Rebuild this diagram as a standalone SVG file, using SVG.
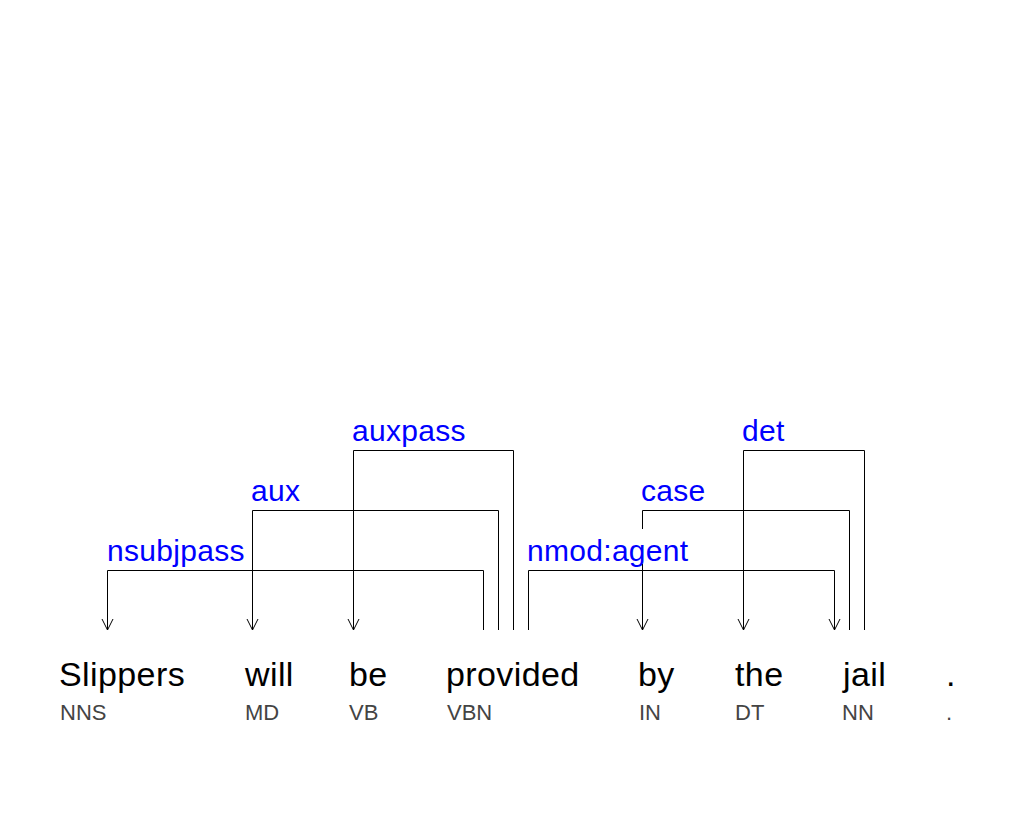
<svg xmlns="http://www.w3.org/2000/svg" width="1010" height="840" viewBox="0 0 1010 840">
<style>
.word{font-family:"Liberation Sans",Arial,sans-serif;font-size:34px;letter-spacing:0.4px;fill:#000}
.pos{font-family:"Liberation Sans",Arial,sans-serif;font-size:22px;fill:#444}
.lbl{font-family:"Liberation Sans",Arial,sans-serif;font-size:30px;letter-spacing:0.3px;fill:#0000ff}
.arc{fill:none;stroke:#000;stroke-width:1}
.bg{fill:#fff}
</style>
<defs>
<marker id="arr" markerUnits="userSpaceOnUse" viewBox="-12 -7 14 14" markerWidth="14" markerHeight="14" refX="0" refY="0" orient="auto" overflow="visible">
<path d="M-11,-5.5 L0,0 L-11,5.5" fill="none" stroke="#000" stroke-width="1"/>
</marker>
</defs>
<rect width="1010" height="840" fill="#fff"/>
<g id="connectors">
<path class="arc" d="M483.5 630 V570.5 H107.5 V630" marker-end="url(#arr)"/>
<path class="arc" d="M498.5 630 V510.5 H252.5 V630" marker-end="url(#arr)"/>
<path class="arc" d="M513.5 630 V450.5 H353.5 V630" marker-end="url(#arr)"/>
<path class="arc" d="M528.5 630 V570.5 H834.5 V630" marker-end="url(#arr)"/>
<path class="arc" d="M849.5 630 V510.5 H642.5 V630" marker-end="url(#arr)"/>
<path class="arc" d="M864.5 630 V450.5 H743.5 V630" marker-end="url(#arr)"/>
<g id="labels">
<rect class="bg" x="106" y="537" width="144" height="28"/>
<text class="lbl" x="107" y="561">nsubjpass</text>
<rect class="bg" x="251" y="477" width="50" height="28"/>
<text class="lbl" x="251" y="501">aux</text>
<rect class="bg" x="352" y="417" width="111" height="28"/>
<text class="lbl" x="352" y="441">auxpass</text>
<rect class="bg" x="527" y="529" width="161" height="35"/>
<text class="lbl" x="527" y="561">nmod:agent</text>
<rect class="bg" x="641" y="477" width="64" height="28"/>
<text class="lbl" x="641" y="501">case</text>
<rect class="bg" x="742" y="417" width="45" height="28"/>
<text class="lbl" x="742" y="441">det</text>
</g>
</g>
<g id="w1"><text class="word" x="59" y="686">Slippers</text><text class="pos" x="60" y="720">NNS</text></g>
<g id="w2"><text class="word" x="245" y="686">will</text><text class="pos" x="245" y="720">MD</text></g>
<g id="w3"><text class="word" x="349" y="686">be</text><text class="pos" x="349" y="720">VB</text></g>
<g id="w4"><text class="word" x="446" y="686">provided</text><text class="pos" x="447" y="720">VBN</text></g>
<g id="w5"><text class="word" x="638" y="686">by</text><text class="pos" x="639" y="720">IN</text></g>
<g id="w6"><text class="word" x="735" y="686">the</text><text class="pos" x="735" y="720">DT</text></g>
<g id="w7"><text class="word" x="843" y="686">jail</text><text class="pos" x="842" y="720">NN</text></g>
<g id="w8"><text class="word" x="946" y="686">.</text><text class="pos" x="946" y="720">.</text></g>
</svg>
